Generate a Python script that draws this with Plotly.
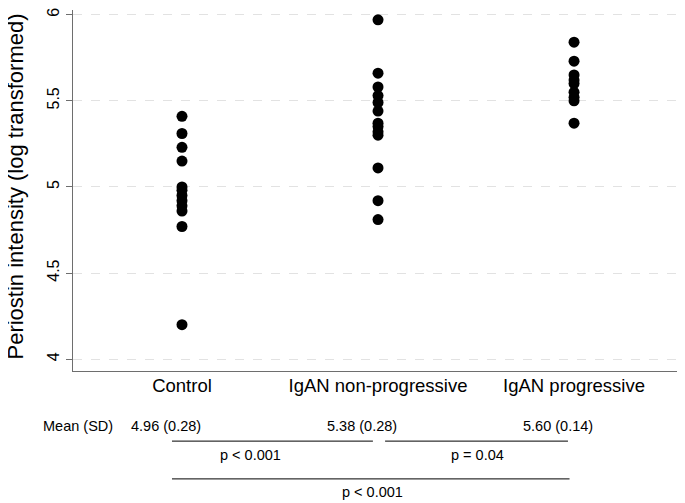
import plotly.graph_objects as go

# ---- data ----
categories = ["Control", "IgAN non-progressive", "IgAN progressive"]
control = [5.41, 5.31, 5.23, 5.15, 5.00, 4.98, 4.95, 4.92, 4.89, 4.86, 4.77, 4.20]
non_progressive = [5.97, 5.66, 5.58, 5.53, 5.49, 5.44, 5.37, 5.35, 5.32, 5.30, 5.11, 4.92, 4.81]
progressive = [5.84, 5.73, 5.65, 5.62, 5.60, 5.55, 5.52, 5.50, 5.37]
mean_sd_labels = ["4.96 (0.28)", "5.38 (0.28)", "5.60 (0.14)"]
p_labels = ["p < 0.001", "p = 0.04", "p < 0.001"]
y_ticks = [4, 4.5, 5, 5.5, 6]
y_ticktext = ["4", "4.5", "5", "5.5", "6"]

FONT = "Liberation Sans, Arial, sans-serif"
OFF = 8                     # page body margin in the browser
W, H = 685 - OFF, 503 - OFF
ML, MB = 73 - OFF, 132
PH = H - MB                 # plot height in px
PW = W - ML


def py(pix):
    """page pixel row (reference coords) -> paper y"""
    return (PH - (pix - OFF)) / PH


groups = [control, non_progressive, progressive]
xs, ys = [], []
for i, g in enumerate(groups):
    xs += [i] * len(g)
    ys += g

fig = go.Figure()
fig.add_trace(go.Scatter(
    x=xs, y=ys, mode="markers",
    marker=dict(color="black", size=11, line=dict(width=0)),
    showlegend=False, hoverinfo="y",
))

ann = []
# y title
ann.append(dict(text="Periostin intensity (log transformed)", textangle=-90,
                xref="paper", yref="paper", x=(16 - OFF - ML) / PW, y=py(185.5),
                xanchor="center", yanchor="middle", showarrow=False,
                font=dict(size=22, color="black", family=FONT)))
# mean (SD) row
ann.append(dict(text="Mean (SD)", xref="x", yref="paper", x=-0.533, y=py(426),
                xanchor="center", yanchor="middle", showarrow=False,
                font=dict(size=14.5, color="black", family=FONT)))
for xc, t in zip([-0.082, 0.918, 1.918], mean_sd_labels):
    ann.append(dict(text=t, xref="x", yref="paper", x=xc, y=py(426),
                    xanchor="center", yanchor="middle", showarrow=False,
                    font=dict(size=14.5, color="black", family=FONT)))
# p values
for xc, yy, t in zip([0.352, 1.508, 0.972], [455, 455, 493], p_labels):
    ann.append(dict(text=t, xref="x", yref="paper", x=xc, y=py(yy),
                    xanchor="center", yanchor="middle", showarrow=False,
                    font=dict(size=14.5, color="black", family=FONT)))

shapes = []
for x0, x1, yy in [(-0.051, 0.974, 441.5), (1.036, 1.969, 441.5), (-0.051, 1.977, 479.5)]:
    shapes.append(dict(type="line", xref="x", yref="paper", x0=x0, x1=x1,
                       y0=py(yy), y1=py(yy), line=dict(color="black", width=1)))

fig.update_layout(
    width=W, height=H,
    margin=dict(l=ML, r=0, t=0, b=MB, pad=0),
    paper_bgcolor="white", plot_bgcolor="white",
    annotations=ann, shapes=shapes,
    xaxis=dict(range=[-0.556, 2.566], tickvals=[0, 1, 2], ticktext=categories,
               showgrid=False, zeroline=False, showline=True, linecolor="#6e6e6e",
               linewidth=1.3, ticks="", ticklabelstandoff=-2,
               tickfont=dict(size=18.5, color="black", family=FONT)),
    yaxis=dict(range=[3.931, 6.027], tickvals=y_ticks, ticktext=y_ticktext,
               tickangle=-90, showgrid=True, gridcolor="#e2e2e2", griddash="dash",
               gridwidth=1, zeroline=False, showline=True, linecolor="#6e6e6e",
               linewidth=1.3, ticks="outside", ticklen=6, tickcolor="#6e6e6e",
               ticklabeloverflow="allow",
               tickfont=dict(size=16, color="black", family=FONT)),
)

fig.write_html("out.html")
